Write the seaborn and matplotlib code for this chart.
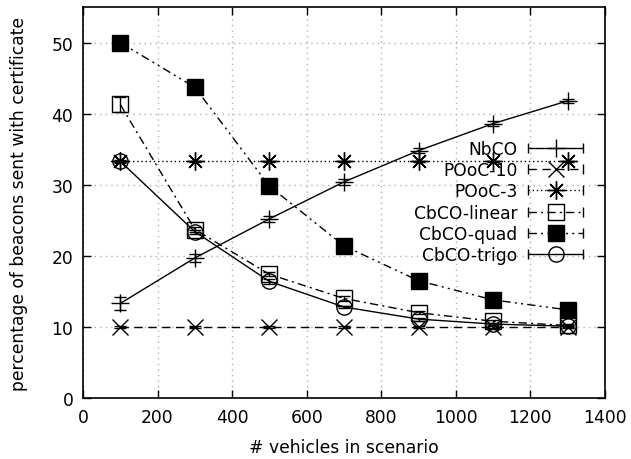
import matplotlib
matplotlib.use("Agg")
import matplotlib.pyplot as plt
import seaborn as sns
import pandas as pd
from matplotlib.lines import Line2D
from matplotlib.legend_handler import HandlerLine2D, HandlerTuple

sns.set_theme(style="ticks")
plt.rcParams["font.family"] = ["DejaVu Sans"]
plt.rcParams["text.color"] = "black"
plt.rcParams["axes.labelcolor"] = "black"
plt.rcParams["xtick.color"] = "black"
plt.rcParams["ytick.color"] = "black"

vehicles = [100, 300, 500, 700, 900, 1100, 1300]

nbco = [13.3, 19.7, 25.2, 30.4, 34.8, 38.6, 41.8]
nbco_err = [0.9, 0.5, 0.4, 0.4, 0.4, 0.3, 0.3]
pooc10 = [10.0, 10.0, 10.0, 10.0, 10.0, 10.0, 10.0]
pooc10_err = [0.1, 0.1, 0.1, 0.1, 0.1, 0.1, 0.1]
pooc3 = [33.3, 33.3, 33.3, 33.3, 33.3, 33.3, 33.3]
pooc3_err = [0.1, 0.1, 0.1, 0.1, 0.1, 0.1, 0.1]
cbco_linear = [41.3, 23.7, 17.4, 14.0, 12.0, 10.8, 10.2]
cbco_linear_err = [1.0, 0.4, 0.3, 0.3, 0.2, 0.2, 0.2]
cbco_quad = [50.0, 43.7, 29.8, 21.4, 16.5, 13.8, 12.4]
cbco_quad_err = [0.3, 0.8, 0.3, 0.3, 0.2, 0.2, 0.2]
cbco_trigo = [33.3, 23.4, 16.4, 12.8, 11.1, 10.4, 10.1]
cbco_trigo_err = [0.2, 0.3, 0.3, 0.2, 0.2, 0.2, 0.2]

series = [
    ("NbCO", nbco, nbco_err, "+", "full", "-"),
    ("POoC-10", pooc10, pooc10_err, "x", "full", (0, (6, 4))),
    ("POoC-3", pooc3, pooc3_err, (8, 2, 0), "full", (0, (1, 2))),
    ("CbCO-linear", cbco_linear, cbco_linear_err, "s", "none", (0, (6, 3, 1.5, 3))),
    ("CbCO-quad", cbco_quad, cbco_quad_err, "s", "full", (0, (6, 3, 1.5, 3, 1.5, 3))),
    ("CbCO-trigo", cbco_trigo, cbco_trigo_err, "o", "none", "-"),
]

rows = []
for name, vals, errs, *_ in series:
    for x, v, e in zip(vehicles, vals, errs):
        rows.append({"vehicles": x, "pct": v, "err": e, "scheme": name})
df = pd.DataFrame(rows)

fig = plt.figure(figsize=(6.31, 4.60), dpi=100)
ax = fig.add_axes([0.1315, 0.1326, 0.8273, 0.8500])

msize = {"+": 13, "x": 12, (8, 2, 0): 13, "s": 11, "o": 11}
FS = 12.3

handles = []
handler_map = {}
for name, vals, errs, marker, fill, ls in series:
    sub = df[df["scheme"] == name]
    sns.lineplot(data=sub, x="vehicles", y="pct", ax=ax, color="black",
                 linewidth=1.0, linestyle=ls, legend=False, errorbar=None)
    ax.errorbar(sub["vehicles"], sub["pct"], yerr=sub["err"], fmt="none",
                ecolor="black", elinewidth=1.0, capsize=4.5, capthick=1.0, zorder=3)
    ax.plot(sub["vehicles"], sub["pct"], linestyle="none", marker=marker,
            markersize=msize[marker], fillstyle=fill, color="black",
            markerfacecolor="black" if fill == "full" else "none",
            markeredgecolor="black", markeredgewidth=1.0, zorder=4)
    bar = Line2D([], [], color="black", linewidth=1.0, linestyle=ls,
                 marker="|", markersize=7, markeredgewidth=1.0)
    mark = Line2D([], [], linestyle="none", marker=marker,
                  markersize=msize[marker], fillstyle=fill,
                  markerfacecolor="black" if fill == "full" else "none",
                  markeredgecolor="black", markeredgewidth=1.0)
    handler_map[bar] = HandlerLine2D(numpoints=2, marker_pad=0.0)
    handles.append((bar, mark))

handler_map[tuple] = HandlerTuple(ndivide=1, pad=0.0)

ax.set_xlim(0, 1400)
ax.set_ylim(0, 55)
ax.set_xticks(range(0, 1401, 200))
ax.set_yticks(range(0, 51, 10))
ax.tick_params(direction="in", length=6, width=1.0, labelsize=FS, colors="black",
               top=True, right=True, labeltop=False, labelright=False, pad=7)
for sp in ax.spines.values():
    sp.set_linewidth(1.2)
    sp.set_color("black")
ax.grid(True, linestyle=(0, (1, 3)), color="#b0b0b0", linewidth=1.0)
ax.set_axisbelow(True)

ax.set_xlabel("# vehicles in scenario", fontsize=FS, labelpad=9)
ax.set_ylabel("percentage of beacons sent with certificate", fontsize=FS, labelpad=17)

leg = ax.legend(handles, [s[0] for s in series], handler_map=handler_map,
                loc="upper right", bbox_to_anchor=(0.958, 0.66), markerfirst=False,
                frameon=False, fontsize=FS, handlelength=3.2, labelspacing=0.19,
                handletextpad=0.65, borderpad=0.0, borderaxespad=0.0)

fig.savefig("out.png", dpi=100)
